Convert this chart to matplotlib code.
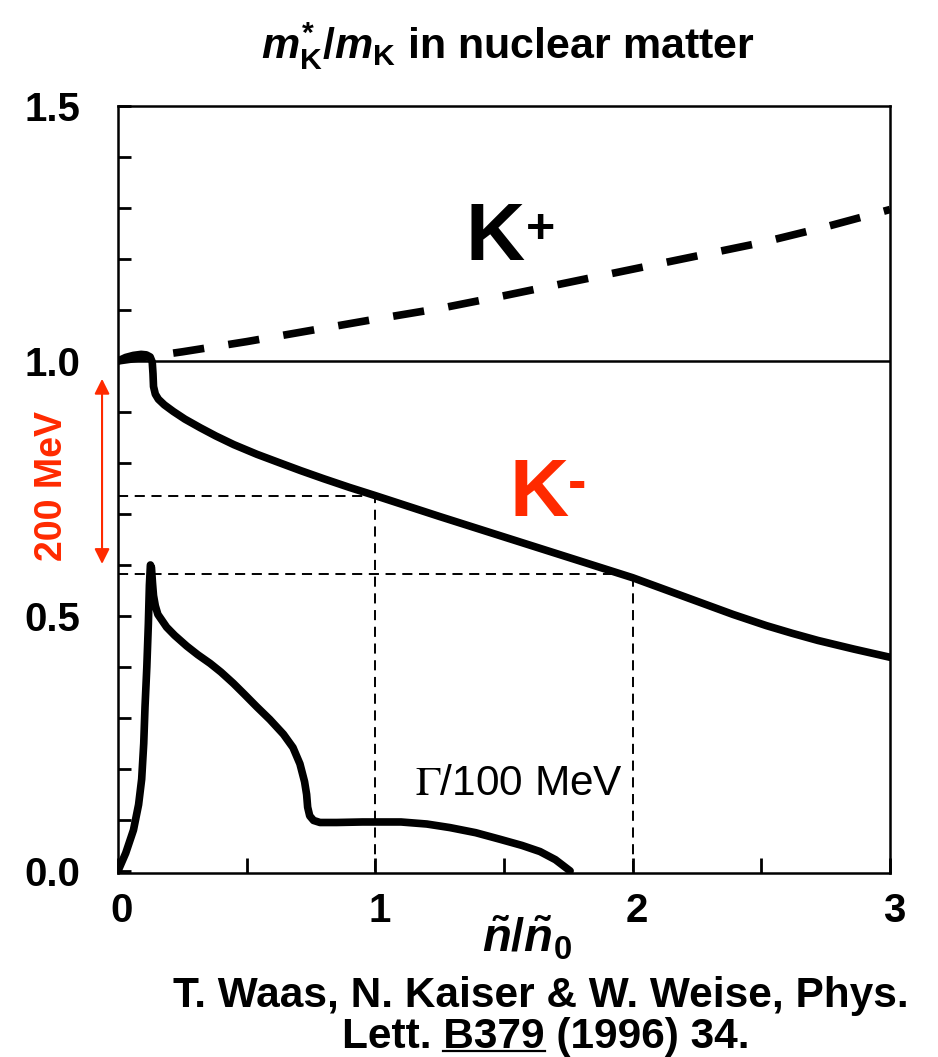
import matplotlib
matplotlib.use("Agg")
import matplotlib.pyplot as plt
from matplotlib import font_manager
from matplotlib.lines import Line2D
from matplotlib.ticker import MultipleLocator
import matplotlib.transforms as mtransforms

# ===================== data =====================
# K+ effective mass ratio (dashed)
density_kplus = [0, 0.25, 0.5, 0.75, 1.0, 1.25, 1.5, 1.75, 2.0, 2.25, 2.5, 2.75, 3.0]
mass_kplus = [1.000, 1.018, 1.038, 1.060, 1.082, 1.103, 1.128, 1.154, 1.180, 1.206, 1.232, 1.263, 1.297]

# K- effective mass ratio (solid)
density_kminus = [0, 0.03, 0.06, 0.09, 0.11, 0.125, 0.133, 0.136, 0.138, 0.145, 0.157, 0.18,
                  0.215, 0.26, 0.32, 0.38, 0.45, 0.54, 0.63, 0.71, 0.80, 0.90, 1.0, 1.25,
                  1.5, 1.75, 2.0, 2.13, 2.26, 2.39, 2.52, 2.62, 2.72, 2.86, 3.0]
mass_kminus = [1.0, 1.007, 1.011, 1.013, 1.012, 1.008, 0.998, 0.975, 0.950, 0.935, 0.925, 0.914,
               0.901, 0.886, 0.869, 0.853, 0.836, 0.817, 0.800, 0.785, 0.769, 0.752, 0.736, 0.695,
               0.655, 0.615, 0.575, 0.551, 0.527, 0.503, 0.481, 0.466, 0.452, 0.435, 0.419]

# K- width Gamma / 100 MeV
density_width = [0, 0.03, 0.06, 0.08, 0.092, 0.10, 0.105, 0.112, 0.118, 0.122, 0.126, 0.13,
                 0.134, 0.138, 0.145, 0.155, 0.17, 0.189, 0.22, 0.267, 0.31, 0.358, 0.40, 0.448,
                 0.49, 0.539, 0.59, 0.643, 0.68, 0.707, 0.725, 0.733, 0.737, 0.745, 0.76, 0.785,
                 0.85, 0.95, 1.1, 1.2, 1.29, 1.39, 1.485, 1.57, 1.64, 1.70, 1.757]
width_gamma = [0, 0.035, 0.08, 0.13, 0.18, 0.25, 0.322, 0.40, 0.485, 0.56, 0.600, 0.595,
               0.565, 0.54, 0.52, 0.503, 0.492, 0.478, 0.462, 0.441, 0.424, 0.407, 0.390, 0.368,
               0.347, 0.322, 0.297, 0.268, 0.242, 0.210, 0.175, 0.150, 0.125, 0.108, 0.099, 0.095,
               0.095, 0.096, 0.096, 0.092, 0.085, 0.075, 0.062, 0.050, 0.038, 0.022, 0.0]

# dashed guide lines at n = n0 and n = 2 n0
guide_x = [1.0, 2.0]
guide_h_y = [0.736, 0.583]
guide_h_end = [1.0, 1.92]
guide_v_top = [0.745, 0.57]

x_ticks = [0, 1, 2, 3]
y_ticks = [0.0, 0.5, 1.0, 1.5]
y_ticklabels = ["0.0", "0.5", "1.0", "1.5"]

# ===================== fonts =====================
names = {f.name for f in font_manager.fontManager.ttflist}
narrow = "Liberation Sans Narrow" if "Liberation Sans Narrow" in names else "Liberation Sans"
nscale = 1.0 if narrow == "Liberation Sans Narrow" else 0.87

plt.rcParams.update({
    "font.family": "Liberation Sans",
    "mathtext.fontset": "custom",
    "mathtext.it": f"{narrow}:italic:bold",
    "mathtext.rm": f"{narrow}:bold",
    "mathtext.bf": f"{narrow}:bold",
})

RED = "#ff2a00"

# ===================== plotting =====================
fig = plt.figure(figsize=(9.38, 10.57), dpi=100)
ax = fig.add_axes([0.1258, 0.1741, 0.823, 0.7256])

ax.axhline(1.0, color="black", lw=1.8, zorder=2)

for gx, hy, hend, vtop in zip(guide_x, guide_h_y, guide_h_end, guide_v_top):
    ax.plot([0, hend], [hy, hy], color="black", lw=1.4, dashes=(5.2, 3.4), zorder=1)
    ax.plot([gx, gx], [0, vtop], color="black", lw=1.4, dashes=(5.2, 3.4), zorder=1)

ax.plot(density_kplus, mass_kplus, color="black", lw=5.5, dashes=(4.1, 3.2),
        dash_capstyle="butt", zorder=3)
ax.plot(density_kminus, mass_kminus, color="black", lw=5.5, solid_joinstyle="round",
        solid_capstyle="round", zorder=4)
ax.plot(density_width, width_gamma, color="black", lw=5.5, solid_joinstyle="round",
        solid_capstyle="round", zorder=4)

ax.set_xlim(0, 3)
ax.set_ylim(-0.004, 1.494)

ax.set_xticks(x_ticks)
ax.set_xticklabels([str(t) for t in x_ticks])
ax.xaxis.set_minor_locator(MultipleLocator(0.5))
ax.set_yticks(y_ticks)
ax.set_yticklabels(y_ticklabels)
ax.yaxis.set_minor_locator(MultipleLocator(0.1))

ax.tick_params(axis="x", which="both", direction="in", length=11, width=2, pad=14,
               top=False, labelsize=29)
ax.tick_params(axis="y", which="both", direction="in", length=9.5, width=2, pad=27,
               right=False, labelsize=29)
for lab in ax.get_xticklabels() + ax.get_yticklabels():
    lab.set_fontweight("bold")
shift = mtransforms.ScaledTranslation(4 / 100, 0, fig.dpi_scale_trans)
for lab in ax.get_xticklabels():
    lab.set_transform(lab.get_transform() + shift)

for sp in ax.spines.values():
    sp.set_linewidth(1.8)

# labels inside the plot
ax.text(1.352, 1.198, "K", fontsize=59, fontweight="bold", color="black")
ax.text(1.585, 1.232, "+", fontsize=36, fontweight="bold", color="black")
ax.text(1.523, 0.697, "K", fontsize=59, fontweight="bold", color=RED)
ax.text(1.748, 0.729, "-", fontsize=40, fontweight="bold", color=RED)
ax.text(1.154, 0.148, r"$\Gamma$/100 MeV", fontsize=30.5, color="black", math_fontfamily="stix")

# 200 MeV arrow outside the axes
ax.annotate("", xy=(-0.062, 0.965), xytext=(-0.062, 0.602), xycoords="data",
            arrowprops=dict(arrowstyle="<|-|>,head_length=0.6,head_width=0.3",
                            color=RED, lw=1.5, shrinkA=0, shrinkB=0, mutation_scale=15),
            annotation_clip=False)
ax.text(-0.2565, 0.754, "200 MeV", rotation=90, ha="center", va="center",
        fontsize=27, fontweight="bold", color=RED, clip_on=False)

# title, axis label, citation
fig.text(0.5416, 0.9451, r"$m^{*}_{\mathrm{K}}/m_{\mathrm{K}}$ in nuclear matter",
         ha="center", va="baseline", fontsize=31 * nscale / 0.87, fontfamily=narrow,
         fontweight="bold")
fig.text(0.5618, 0.0984, r"$\tilde{n}/\tilde{n}_{\mathit{0}}$", ha="center", va="baseline",
         fontsize=34 * nscale / 0.87)

cite_size = 30.5 * nscale / 0.87
fig.text(0.5768, 0.0473, "T. Waas, N. Kaiser & W. Weise, Phys.", ha="center", va="baseline",
         fontsize=cite_size, fontfamily=narrow, fontweight="bold")
line2 = "Lett. B379 (1996) 34."
cite2 = fig.text(0.582, 0.0085, line2, ha="center", va="baseline",
                 fontsize=cite_size, fontfamily=narrow, fontweight="bold")

# underline "B379"
renderer = fig.canvas.get_renderer()
bb = cite2.get_window_extent(renderer)
fp = cite2.get_fontproperties()
w_pre_b, _, _ = renderer.get_text_width_height_descent("Lett. B379", fp, ismath=False)
w_b, _, _ = renderer.get_text_width_height_descent("B379", fp, ismath=False)
_, _, desc = renderer.get_text_width_height_descent(line2, fp, ismath=False)
W, H = fig.bbox.width, fig.bbox.height
x0 = bb.x0 + w_pre_b - w_b
x1 = bb.x0 + w_pre_b
yu = bb.y0 + desc - 3
fig.add_artist(Line2D([x0 / W, x1 / W], [yu / H, yu / H], transform=fig.transFigure,
                      lw=1.6, color="black"))

fig.savefig("out.png", dpi=100)
